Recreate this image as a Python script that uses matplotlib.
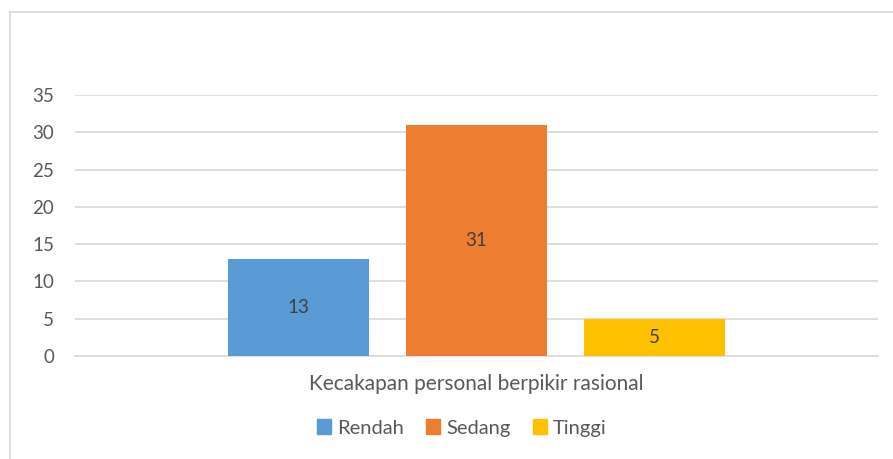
import numpy as np
import matplotlib.pyplot as plt
from matplotlib.lines import Line2D

plt.rcParams['font.family'] = ['Lato', 'DejaVu Sans']

category = "Kecakapan personal berpikir rasional"
series = ["Rendah", "Sedang", "Tinggi"]
values = [13, 31, 5]
colors = ["#5B9BD5", "#ED7D31", "#FFC000"]
yticks = [0, 5, 10, 15, 20, 25, 30, 35]

W, H = 893, 459
fig = plt.figure(figsize=(W/100, H/100), dpi=100)
ax = fig.add_axes([75/W, 1-356/H, (878-75)/W, (356-95)/H])

step = 0.2217
width = 0.1756
offsets = (np.arange(len(values)) - 1) * step
bars = ax.bar(offsets, values, width=width, color=colors, label=series, zorder=3)
for b, v in zip(bars, values):
    ax.text(b.get_x() + b.get_width()/2, v/2, str(v), ha='center', va='center',
            fontsize=13.5, color='#404040', zorder=4)

ax.set_xlim(-0.5, 0.5)
ax.set_ylim(0, 35)
ax.set_yticks(yticks)
ax.set_xticks([0])
ax.set_xticklabels([category], fontsize=15)
ax.tick_params(axis='both', length=0, colors='#595959')
ax.tick_params(axis='y', pad=15, labelsize=13.5)
ax.tick_params(axis='x', pad=13)
ax.grid(axis='y', color='#D9D9D9', linewidth=1.2, zorder=0)
for s in ['top', 'right', 'left']:
    ax.spines[s].set_visible(False)
ax.spines['bottom'].set_color('#D9D9D9')
ax.spines['bottom'].set_linewidth(1.2)

handles = [plt.Rectangle((0, 0), 1, 1, color=c) for c in colors]
fig.legend(handles, series, loc='center', bbox_to_anchor=(462/W, 1-428/H), ncol=3,
           frameon=False, fontsize=14.5, handlelength=0.7, handleheight=0.7,
           handletextpad=0.3, columnspacing=1.1, labelcolor='#595959')

# chart frame (left and top edges visible)
fig.add_artist(Line2D([10/W, 10/W], [0, 1-12/H], color='#D9D9D9', lw=1.2))
fig.add_artist(Line2D([10/W, 1], [1-12/H, 1-12/H], color='#D9D9D9', lw=1.2))

plt.savefig('out.png', dpi=100)
plt.close()
